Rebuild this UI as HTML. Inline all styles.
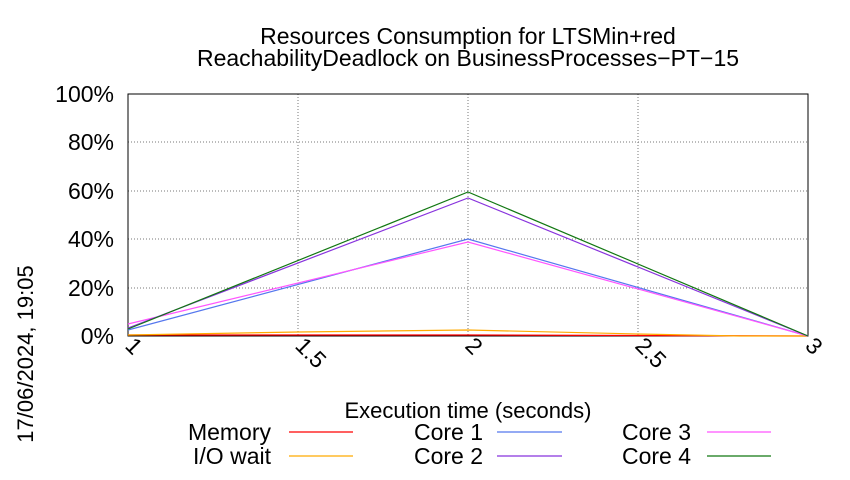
<!DOCTYPE html><html><head><style>body{margin:0;background:#fff}svg{font-family:"Liberation Sans",sans-serif}</style></head><body>
<svg width="850" height="475" viewBox="0 0 850 475">
<text x="468" y="44" font-size="23" text-anchor="middle">Resources Consumption for LTSMin+red</text>
<text x="468" y="66" font-size="23" text-anchor="middle">ReachabilityDeadlock on BusinessProcesses−PT−15</text>
<g stroke="#777" stroke-dasharray="1,2" stroke-width="1">
<line x1="128" y1="94" x2="808" y2="94"/><line x1="128" y1="142" x2="808" y2="142"/><line x1="128" y1="191" x2="808" y2="191"/><line x1="128" y1="239" x2="808" y2="239"/><line x1="128" y1="288" x2="808" y2="288"/>
<line x1="298" y1="94" x2="298" y2="336"/><line x1="468" y1="94" x2="468" y2="336"/><line x1="638" y1="94" x2="638" y2="336"/>
</g>
<rect x="128" y="94" width="680" height="242" fill="none" stroke="#000"/>
<g font-size="23" text-anchor="end">
<text x="114" y="344">0%</text><text x="114" y="296">20%</text><text x="114" y="247">40%</text><text x="114" y="199">60%</text><text x="114" y="150">80%</text><text x="114" y="102">100%</text>
</g>
<g font-size="23">
<text transform="translate(124,347) rotate(45)">1</text>
<text transform="translate(294,347) rotate(45)">1.5</text>
<text transform="translate(464,347) rotate(45)">2</text>
<text transform="translate(634,347) rotate(45)">2.5</text>
<text transform="translate(804,347) rotate(45)">3</text>
</g>
<text x="468" y="418" font-size="22" text-anchor="middle">Execution time (seconds)</text>
<text transform="translate(33,354) rotate(-90)" font-size="22" text-anchor="middle">17/06/2024, 19:05</text>
<g fill="none" stroke-width="1.2">
<polyline stroke="#f00" points="128,335 468,335 808,336"/>
<polyline stroke="#fa0" points="128,335 298,332 468,330 638,334 740,336 808,336"/>
<polyline stroke="#5577ee" points="128,330 468,239 808,336"/>
<polyline stroke="#f5f" points="128,324 468,242 808,336"/>
<polyline stroke="#8833dd" points="128,328 468,198 808,336"/>
<polyline stroke="#171" points="128,329 468,192 808,336"/>
</g>
<g font-size="23" text-anchor="end">
<text x="271" y="440">Memory</text><text x="271" y="464">I/O wait</text>
<text x="483" y="440">Core 1</text><text x="483" y="464">Core 2</text>
<text x="691" y="440">Core 3</text><text x="691" y="464">Core 4</text>
</g>
<g stroke-width="1.2">
<line x1="289" y1="432" x2="353" y2="432" stroke="#f00"/>
<line x1="289" y1="456" x2="353" y2="456" stroke="#fa0"/>
<line x1="497" y1="432" x2="562" y2="432" stroke="#5577ee"/>
<line x1="497" y1="456" x2="562" y2="456" stroke="#8833dd"/>
<line x1="707" y1="432" x2="771" y2="432" stroke="#f5f"/>
<line x1="707" y1="456" x2="771" y2="456" stroke="#171"/>
</g>
</svg></body></html>
